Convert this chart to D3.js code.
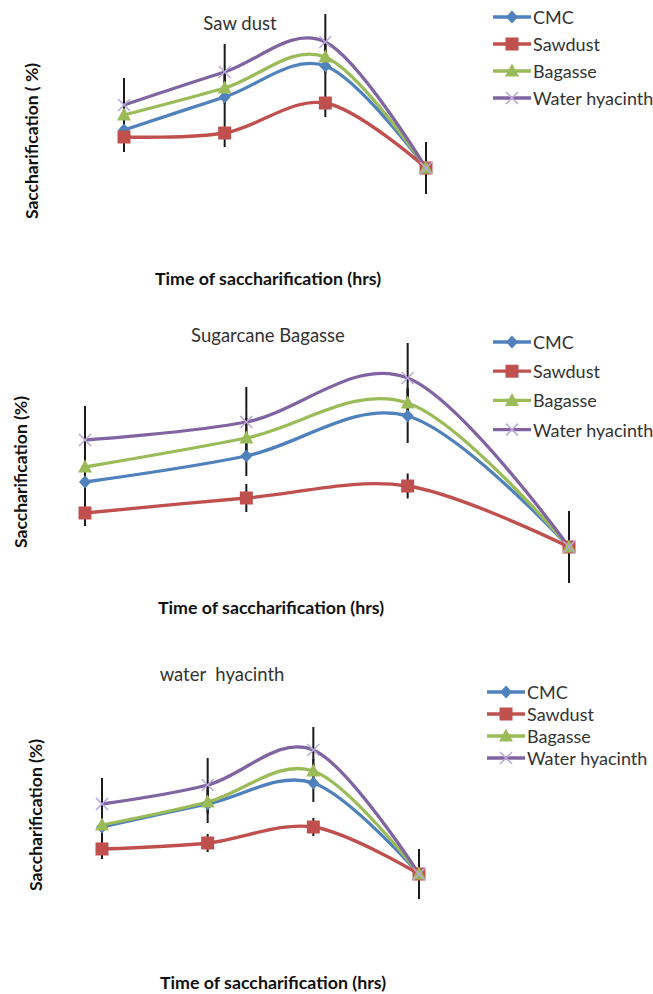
<!DOCTYPE html>
<html>
<head>
<meta charset="utf-8">
<script src="https://cdn.jsdelivr.net/npm/d3@7"></script>
<style>
  body { margin: 0; background: #fff; }
  text { font-family: Lato, "Open Sans", sans-serif; }
</style>
</head>
<body>
<svg id="chart" width="653" height="994"></svg>
<script>
// series and categories
var seriesNames = ["CMC", "Sawdust", "Bagasse", "Water hyacinth"];
var timeHours = [24, 48, 72, 96];
var panelTitles = ["Saw dust", "Sugarcane Bagasse", "water  hyacinth"];
var yLabels = ["Saccharification ( %)", "Saccharification (%)", "Saccharification (%)"];
var xLabel = "Time of saccharification (hrs)";

// saccharification (%) per series (rows follow seriesNames)
var sawdustValues = [
    [14.5, 22.75, 30.5, 5],
    [12.75, 13.75, 21.25, 5],
    [18.25, 25, 32.75, 5],
    [20.75, 29, 36.5, 5]
];
var sawdustErrors = [
    [4, 5.5, 5.75, 6.5],
    [3.75, 3.5, 3.5, 6.5],
    [4, 4, 4, 6.5],
    [6.75, 7, 7, 6.5]
];
var bagasseValues = [
    [18, 23.2, 31.2, 5],
    [11.8, 14.8, 17.2, 5],
    [21, 26.8, 33.8, 5],
    [26.4, 30, 38.8, 5]
];
var bagasseErrors = [
    [4, 4, 5.4, 7.2],
    [2.6, 2.8, 2.5, 7.2],
    [4, 4, 3, 7.2],
    [6.8, 7, 7, 7.2]
];
var hyacinthValues = [
    [16.75, 22.5, 27.75, 5],
    [11.25, 12.75, 16.75, 5],
    [17.25, 23, 30.75, 5],
    [22.5, 27.25, 36, 5]
];
var hyacinthErrors = [
    [3.5, 4.75, 4.75, 6.25],
    [2.5, 2.25, 2.25, 6.25],
    [3, 3, 3, 6.25],
    [6.5, 6.75, 5.75, 6.25]
];

// styling / placement
var colors = ["#4F81BD", "#C0504D", "#9BBB59", "#8064A2"];
var panels = [
    { values: sawdustValues, errors: sawdustErrors, x: [124, 426], y: [188, 28],
      title: [240, 23], yLab: [31, 141], xLab: [268, 278], legend: [493, 17, 27] },
    { values: bagasseValues, errors: bagasseErrors, x: [85, 569], y: [572, 372],
      title: [268, 335], yLab: [20, 472], xLab: [271, 607], legend: [493, 342, 29.2] },
    { values: hyacinthValues, errors: hyacinthErrors, x: [102, 419], y: [894, 734],
      title: [222, 674], yLab: [35, 815], xLab: [273, 982], legend: [487, 692, 22] }
];

var svg = d3.select("#chart");

function drawMarker(g, k, cx, cy) {
    var c = colors[k];
    if (k === 0) {
        g.append("path")
            .attr("d", "M" + cx + "," + (cy - 6.5) + "L" + (cx + 6) + "," + cy + "L" + cx + "," + (cy + 6.5) + "L" + (cx - 6) + "," + cy + "Z")
            .attr("fill", c);
    } else if (k === 1) {
        g.append("rect")
            .attr("x", cx - 6.5).attr("y", cy - 6.5)
            .attr("width", 13).attr("height", 13)
            .attr("fill", c);
    } else if (k === 2) {
        g.append("path")
            .attr("d", "M" + cx + "," + (cy - 7.5) + "L" + (cx + 7) + "," + (cy + 5.5) + "L" + (cx - 7) + "," + (cy + 5.5) + "Z")
            .attr("fill", c);
    } else {
        g.append("path")
            .attr("d", "M" + (cx - 6) + "," + (cy - 6) + "L" + (cx + 6) + "," + (cy + 6) + "M" + (cx + 6) + "," + (cy - 6) + "L" + (cx - 6) + "," + (cy + 6))
            .attr("stroke", "#B9A9DC")
            .attr("stroke-width", 1.6)
            .attr("fill", "none");
    }
}

panels.forEach(function (p, pi) {
    var g = svg.append("g").attr("class", "panel-" + pi);

    var xScale = d3.scalePoint().domain(timeHours).range(p.x);
    var yScale = d3.scaleLinear().domain([0, 40]).range(p.y);

    var line = d3.line()
        .x(function (d, i) { return xScale(timeHours[i]); })
        .y(function (d) { return yScale(d); })
        .curve(d3.curveCardinal.tension(0));

    // smoothed series lines
    p.values.forEach(function (vals, k) {
        g.append("path")
            .attr("d", line(vals))
            .attr("fill", "none")
            .attr("stroke", colors[k])
            .attr("stroke-width", 3.3);
    });

    // error bars (no caps)
    p.values.forEach(function (vals, k) {
        vals.forEach(function (v, i) {
            var e = p.errors[k][i];
            g.append("line")
                .attr("x1", xScale(timeHours[i]))
                .attr("x2", xScale(timeHours[i]))
                .attr("y1", yScale(v + e))
                .attr("y2", yScale(v - e))
                .attr("stroke", "#1a1a1a")
                .attr("stroke-width", 2);
        });
    });

    // markers
    p.values.forEach(function (vals, k) {
        vals.forEach(function (v, i) {
            drawMarker(g, k, xScale(timeHours[i]), yScale(v));
        });
    });

    // title
    g.append("text")
        .attr("x", p.title[0]).attr("y", p.title[1])
        .attr("text-anchor", "middle")
        .attr("dominant-baseline", "central")
        .attr("font-size", 18.5)
        .attr("fill", "#333")
        .style("white-space", "pre")
        .text(panelTitles[pi]);

    // axis labels
    g.append("text")
        .attr("transform", "translate(" + p.yLab[0] + "," + p.yLab[1] + ") rotate(-90)")
        .attr("text-anchor", "middle")
        .attr("dominant-baseline", "central")
        .attr("font-size", 17.5)
        .attr("font-weight", "bold")
        .attr("fill", "#111")
        .text(yLabels[pi]);
    g.append("text")
        .attr("x", p.xLab[0]).attr("y", p.xLab[1])
        .attr("text-anchor", "middle")
        .attr("dominant-baseline", "central")
        .attr("font-size", 17.8)
        .attr("font-weight", "bold")
        .attr("fill", "#111")
        .text(xLabel);

    // legend
    var lg = g.append("g").attr("class", "legend");
    seriesNames.forEach(function (name, k) {
        var ly = p.legend[1] + k * p.legend[2];
        lg.append("line")
            .attr("x1", p.legend[0]).attr("x2", p.legend[0] + 38)
            .attr("y1", ly).attr("y2", ly)
            .attr("stroke", colors[k])
            .attr("stroke-width", 3.3);
        drawMarker(lg, k, p.legend[0] + 19, ly);
        lg.append("text")
            .attr("x", p.legend[0] + 40).attr("y", ly)
            .attr("dominant-baseline", "central")
            .attr("font-size", 18)
            .attr("fill", "#333")
            .text(name);
    });
});
</script>
</body>
</html>
